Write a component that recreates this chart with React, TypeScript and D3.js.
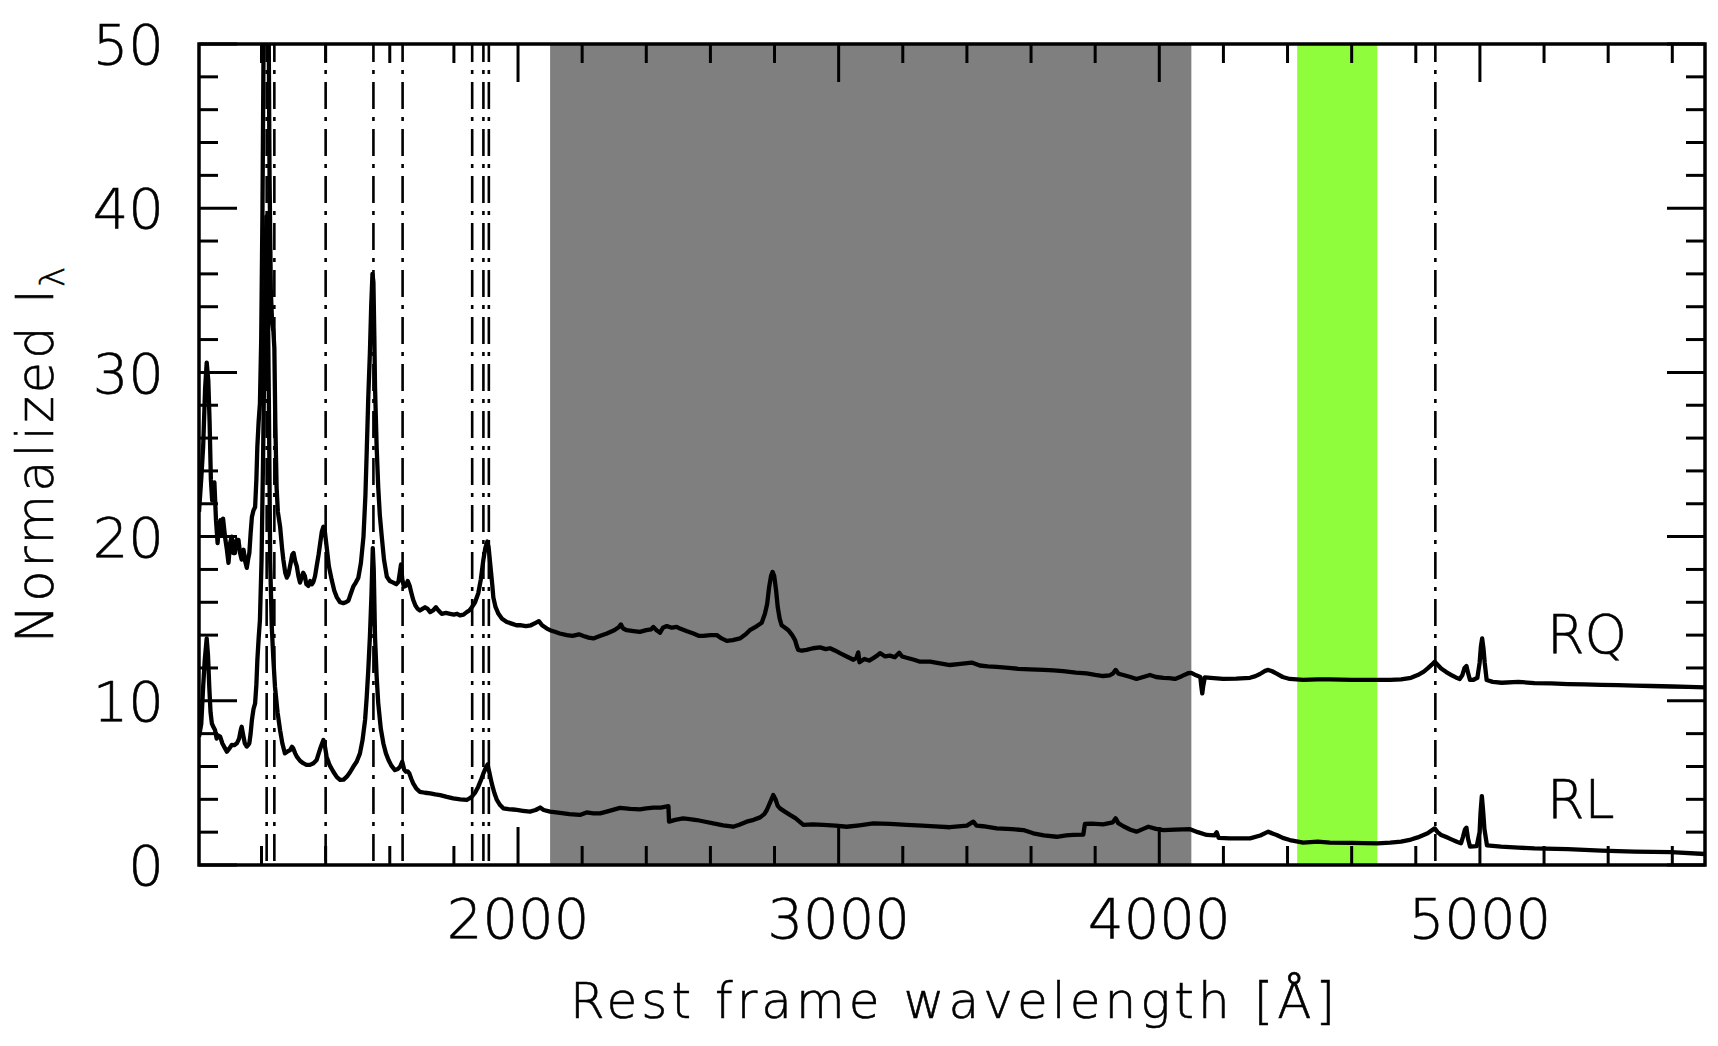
import React from 'react';
import * as d3 from 'd3';

// radio-quiet composite: rest wavelength (Å) and normalized flux
const rqWave = [
  1005, 1012, 1018, 1024, 1029, 1034, 1038, 1042, 1046, 1050, 1053, 1058, 1063, 1068, 1072, 1076, 1080, 1086, 1092, 1097,
  1102, 1107, 1112, 1117, 1122, 1128, 1133, 1138, 1144, 1149, 1154, 1158, 1162, 1166, 1170, 1175, 1180, 1184, 1187, 1191,
  1195, 1199, 1203, 1207, 1211, 1215, 1219, 1222, 1225, 1229, 1233, 1237, 1240, 1243, 1247, 1251, 1258, 1264, 1268, 1274,
  1279, 1284, 1290, 1296, 1300, 1305, 1310, 1315, 1320, 1325, 1330, 1335, 1340, 1346, 1352, 1357, 1362, 1367, 1372, 1378,
  1383, 1388, 1393, 1397, 1403, 1410, 1419, 1427, 1435, 1445, 1455, 1463, 1471, 1478, 1486, 1494, 1502, 1510, 1518, 1524,
  1528, 1533, 1538, 1542, 1546, 1549, 1552, 1554, 1559, 1564, 1569, 1575, 1582, 1591, 1600, 1611, 1620, 1627, 1632, 1635,
  1639, 1644, 1650, 1656, 1662, 1667, 1673, 1680, 1687, 1694, 1702, 1710, 1718, 1726, 1735, 1744, 1752, 1762, 1775, 1788,
  1800, 1810, 1819, 1830, 1840, 1848, 1856, 1866, 1876, 1884, 1892, 1898, 1904, 1908, 1912, 1915, 1920, 1923, 1930, 1939,
  1950, 1965, 1980, 1995, 2010, 2025, 2040, 2055, 2065, 2075, 2090, 2100, 2115, 2130, 2152, 2170, 2190, 2204, 2220, 2235,
  2255, 2277, 2300, 2315, 2321, 2328, 2339, 2360, 2380, 2400, 2415, 2422, 2432, 2443, 2452, 2464, 2480, 2495, 2505, 2525,
  2547, 2565, 2578, 2600, 2620, 2635, 2651, 2670, 2692, 2710, 2723, 2745, 2760, 2770, 2777, 2783, 2789, 2794, 2799, 2805,
  2810, 2816, 2822, 2833, 2843, 2855, 2864, 2870, 2874, 2885, 2900, 2920, 2942, 2960, 2973, 2990, 3004, 3025, 3046, 3055,
  3061, 3065, 3080, 3095, 3108, 3120, 3129, 3145, 3160, 3175, 3189, 3198, 3212, 3235, 3254, 3285, 3316, 3347, 3380, 3415,
  3440, 3465, 3493, 3530, 3560, 3597, 3640, 3670, 3700, 3740, 3773, 3800, 3825, 3845, 3855, 3864, 3873, 3888, 3910, 3929,
  3950, 3971, 3990, 4013, 4030, 4049, 4070, 4090, 4100, 4115, 4128, 4131, 4134, 4137, 4142, 4170, 4199, 4240, 4283, 4300,
  4314, 4330, 4340, 4352, 4366, 4385, 4407, 4449, 4494, 4532, 4600, 4681, 4720, 4754, 4785, 4806, 4825, 4837, 4850, 4859,
  4868, 4879, 4895, 4911, 4925, 4937, 4945, 4952, 4958, 4963, 4969, 4980, 4992, 4999, 5003, 5007, 5011, 5015, 5021, 5040,
  5068, 5120, 5170, 5222, 5274, 5326, 5378, 5430, 5482, 5534, 5600, 5650, 5702,
];
const rqFlux = [
  21.5, 23.5, 25.5, 29.0, 30.6, 29.5, 27.0, 23.5, 22.2, 22.8, 23.3, 21.0, 19.6, 20.8, 21.0, 20.2, 21.1, 20.0, 19.2, 18.4,
  19.6, 20.0, 19.0, 19.0, 19.8, 19.8, 19.0, 18.6, 19.2, 18.5, 18.1, 18.6, 19.0, 20.2, 21.2, 21.6, 21.8, 23.5, 25.5, 27.0,
  28.1, 32.0, 40.0, 52.0, 62.0, 68.0, 62.0, 52.0, 42.0, 35.0, 33.0, 32.5, 31.5, 27.0, 23.0, 21.5, 20.6, 19.3, 18.6, 17.8,
  17.5, 17.7, 18.3, 18.9, 19.0, 18.5, 18.2, 17.6, 17.2, 17.5, 17.8, 17.6, 17.1, 17.0, 17.3, 17.1, 17.25, 17.6, 18.2, 18.9,
  19.6, 20.3, 20.6, 20.4, 19.4, 18.2, 17.35, 16.7, 16.3, 16.0, 15.95, 16.0, 16.1, 16.5, 16.95, 17.2, 17.5, 18.4, 20.0, 22.5,
  25.1, 28.5, 31.2, 34.0, 36.0, 35.5, 32.0, 29.1, 25.5, 23.0, 21.3, 20.0, 18.6, 17.55, 17.3, 17.2, 17.1, 17.25, 17.9, 18.3,
  17.4, 16.95, 17.0, 17.3, 17.0, 16.6, 16.15, 15.8, 15.6, 15.5, 15.6, 15.7, 15.6, 15.4, 15.5, 15.7, 15.5, 15.3, 15.35, 15.3,
  15.25, 15.3, 15.2, 15.25, 15.4, 15.5, 15.7, 16.0, 16.55, 17.4, 18.6, 19.3, 19.7, 19.4, 18.6, 18.0, 17.0, 16.3, 15.7, 15.3,
  15.0, 14.8, 14.7, 14.6, 14.6, 14.55, 14.6, 14.75, 14.85, 14.6, 14.4, 14.3, 14.2, 14.1, 14.0, 13.95, 14.05, 13.95, 13.85, 13.8,
  13.95, 14.1, 14.3, 14.5, 14.65, 14.4, 14.3, 14.25, 14.2, 14.3, 14.35, 14.5, 14.3, 14.15, 14.45, 14.55, 14.45, 14.5, 14.4, 14.25,
  14.1, 13.95, 13.95, 14.0, 14.0, 13.8, 13.65, 13.7, 13.8, 14.05, 14.3, 14.55, 14.75, 15.3, 15.9, 16.9, 17.6, 17.85, 17.6, 16.7,
  15.7, 15.0, 14.6, 14.45, 14.3, 14.0, 13.7, 13.3, 13.1, 13.05, 13.1, 13.2, 13.25, 13.15, 13.2, 13.05, 12.9, 12.7, 12.5, 12.6,
  12.95, 12.35, 12.55, 12.45, 12.6, 12.75, 12.9, 12.7, 12.75, 12.65, 12.93, 12.7, 12.62, 12.5, 12.38, 12.38, 12.28, 12.18, 12.25, 12.33,
  12.15, 12.1, 12.07, 12.0, 11.95, 11.91, 11.88, 11.85, 11.81, 11.72, 11.67, 11.58, 11.51, 11.55, 11.65, 11.88, 11.65, 11.57, 11.45, 11.33,
  11.45, 11.57, 11.45, 11.4, 11.38, 11.33, 11.5, 11.68, 11.7, 11.55, 11.45, 10.9, 10.45, 10.9, 11.43, 11.38, 11.33, 11.35, 11.4, 11.5,
  11.63, 11.82, 11.88, 11.8, 11.65, 11.45, 11.33, 11.27, 11.3, 11.3, 11.28, 11.27, 11.28, 11.3, 11.4, 11.57, 11.78, 11.97, 12.2, 12.38,
  12.2, 11.97, 11.75, 11.57, 11.42, 11.33, 11.55, 12.0, 12.12, 11.7, 11.27, 11.28, 11.4, 12.3, 13.3, 13.8, 13.2, 12.3, 11.27, 11.15,
  11.1, 11.15, 11.08, 11.06, 11.02, 11.0, 10.97, 10.96, 10.93, 10.9, 10.87, 10.85, 10.82,
];

// radio-loud composite
const rlWave = [
  1005, 1012, 1018, 1023, 1029, 1033, 1037, 1041, 1045, 1050, 1055, 1060, 1064, 1071, 1078, 1085, 1092, 1100, 1107, 1115,
  1123, 1130, 1135, 1138, 1142, 1148, 1154, 1158, 1162, 1166, 1170, 1175, 1180, 1184, 1187, 1191, 1195, 1200, 1205, 1210,
  1215, 1219, 1223, 1227, 1232, 1237, 1242, 1250, 1258, 1265, 1273, 1280, 1289, 1295, 1299, 1305, 1310, 1320, 1330, 1340,
  1351, 1362, 1372, 1380, 1385, 1393, 1398, 1403, 1412, 1424, 1435, 1445, 1456, 1466, 1476, 1486, 1497, 1507, 1515, 1523,
  1528, 1533, 1538, 1543, 1547, 1550, 1554, 1559, 1564, 1572, 1580, 1588, 1596, 1605, 1616, 1625, 1632, 1639, 1645, 1650,
  1656, 1661, 1667, 1673, 1683, 1694, 1710, 1726, 1742, 1757, 1778, 1798, 1820, 1840, 1848, 1856, 1866, 1876, 1884, 1892,
  1899, 1905, 1910, 1918, 1926, 1934, 1944, 1954, 1970, 1985, 1996, 2015, 2037, 2055, 2069, 2080, 2100, 2131, 2160, 2193,
  2214, 2235, 2256, 2285, 2318, 2350, 2380, 2400, 2422, 2445, 2469, 2471, 2490, 2515, 2535, 2557, 2580, 2609, 2640, 2671,
  2690, 2713, 2735, 2755, 2768, 2776, 2787, 2796, 2803, 2810, 2817, 2832, 2848, 2865, 2890, 2920, 2952, 2990, 3025, 3065,
  3108, 3160, 3212, 3260, 3300, 3347, 3400, 3420, 3430, 3450, 3493, 3540, 3576, 3607, 3640, 3680, 3710, 3732, 3763, 3768,
  3790, 3825, 3855, 3864, 3872, 3888, 3910, 3929, 3950, 3966, 3990, 4013, 4050, 4096, 4120, 4148, 4172, 4179, 4185, 4220,
  4283, 4315, 4340, 4355, 4366, 4385, 4407, 4449, 4494, 4532, 4600, 4681, 4720, 4754, 4785, 4806, 4837, 4859, 4868, 4879,
  4895, 4911, 4930, 4941, 4947, 4953, 4958, 4963, 4969, 4990, 4999, 5002, 5006, 5010, 5014, 5022, 5066, 5120, 5170, 5274,
  5378, 5482, 5596, 5702,
];
const rlFlux = [
  7.8, 8.6, 10.86, 12.5, 13.8, 12.8, 10.86, 9.3, 8.63, 8.4, 8.22, 7.7, 7.9, 7.82, 7.4, 7.15, 6.9, 7.1, 7.31, 7.3,
  7.41, 7.7, 8.2, 8.42, 8.0, 7.4, 7.21, 7.3, 7.41, 8.0, 8.83, 9.5, 9.84, 11.0, 12.48, 13.8, 14.9, 18.5, 25.0, 33.0,
  39.5, 36.0, 28.0, 18.5, 14.5, 12.5, 10.86, 9.3, 8.2, 7.4, 6.8, 6.9, 7.0, 7.2, 7.1, 6.8, 6.6, 6.35, 6.2, 6.1,
  6.1, 6.2, 6.4, 6.9, 7.2, 7.61, 7.2, 6.6, 6.1, 5.68, 5.35, 5.18, 5.2, 5.38, 5.65, 5.98, 6.3, 6.8, 7.6, 8.83,
  10.2, 11.88, 13.9, 16.5, 19.3, 18.0, 13.9, 11.5, 9.86, 8.3, 7.4, 6.8, 6.4, 6.05, 5.78, 5.85, 5.98, 6.29, 5.8, 5.68,
  5.7, 5.58, 5.25, 4.97, 4.65, 4.46, 4.4, 4.36, 4.3, 4.26, 4.15, 4.06, 4.0, 3.96, 4.05, 4.16, 4.4, 4.77, 5.15, 5.58,
  5.9, 6.12, 5.7, 4.97, 4.4, 3.96, 3.65, 3.45, 3.4, 3.38, 3.35, 3.3, 3.25, 3.35, 3.5, 3.35, 3.25, 3.18, 3.1, 3.05,
  3.2, 3.15, 3.14, 3.3, 3.48, 3.42, 3.39, 3.45, 3.5, 3.5, 3.59, 2.64, 2.75, 2.84, 2.8, 2.74, 2.65, 2.53, 2.42, 2.33,
  2.45, 2.64, 2.75, 2.9, 3.1, 3.35, 3.85, 4.26, 4.0, 3.6, 3.45, 3.25, 3.05, 2.85, 2.44, 2.48, 2.44, 2.4, 2.33, 2.42,
  2.53, 2.5, 2.44, 2.4, 2.35, 2.3, 2.4, 2.64, 2.4, 2.36, 2.23, 2.18, 2.13, 1.93, 1.8, 1.72, 1.8, 1.83, 1.85, 2.5,
  2.52, 2.48, 2.6, 2.84, 2.55, 2.36, 2.15, 2.03, 2.2, 2.33, 2.2, 2.13, 2.15, 2.18, 2.0, 1.83, 1.8, 2.0, 1.65, 1.62,
  1.62, 1.8, 2.03, 1.9, 1.83, 1.65, 1.52, 1.36, 1.42, 1.36, 1.35, 1.32, 1.36, 1.42, 1.55, 1.68, 1.93, 2.23, 2.0, 1.83,
  1.7, 1.56, 1.4, 1.32, 1.7, 2.15, 2.27, 1.6, 1.12, 1.15, 2.0, 3.2, 4.2, 3.3, 2.2, 1.2, 1.12, 1.06, 1.01, 0.97,
  0.87, 0.81, 0.78, 0.67,
];

// emission lines marked with dash-dot verticals
const lineWaves = [1216, 1240, 1400, 1549, 1640, 1857, 1892, 1909, 4861];
// shaded wavelength windows
const grayBand = [2100, 4100];
const greenBand = [4430, 4680];

const xMajorTicks = [2000, 3000, 4000, 5000];
const xMinorTicks = [1200, 1400, 1600, 1800, 2200, 2400, 2600, 2800, 3200, 3400, 3600, 3800,
  4200, 4400, 4600, 4800, 5200, 5400, 5600];
const yMajorTicks = [0, 10, 20, 30, 40, 50];
const yMinorTicks = [2, 4, 6, 8, 12, 14, 16, 18, 22, 24, 26, 28, 32, 34, 36, 38, 42, 44, 46, 48];

const W = 1718;
const H = 1046;
const left = 199, right = 1705, top = 44, bottom = 865;
const font = '"DejaVu Sans", sans-serif';

const App: React.FC = () => {
  const x = d3.scaleLinear().domain([1005, 5702]).range([left, right]);
  const y = d3.scaleLinear().domain([0, 50]).range([bottom, top]);

  const line = d3.line<[number, number]>()
    .x(d => x(d[0]))
    .y(d => y(d[1]));

  const rq = line(rqWave.map((w, i) => [w, rqFlux[i]] as [number, number])) || '';
  const rl = line(rlWave.map((w, i) => [w, rlFlux[i]] as [number, number])) || '';

  const major = 38, minor = 19;

  return (
    <svg width={W} height={H} style={{ position: 'absolute', left: 0, top: 0, background: '#fff' }}>
      <defs>
        <clipPath id="plot-clip">
          <rect x={left} y={top} width={right - left} height={bottom - top} />
        </clipPath>
      </defs>

      <rect x={x(grayBand[0])} y={top} width={x(grayBand[1]) - x(grayBand[0])} height={bottom - top} fill="#7f7f7f" />
      <rect x={x(greenBand[0])} y={top} width={x(greenBand[1]) - x(greenBand[0])} height={bottom - top} fill="#8ffd3c" />

      {lineWaves.map(w => (
        <line key={w} x1={x(w)} x2={x(w)} y1={top} y2={bottom}
          stroke="#000" strokeWidth={2.6} strokeDasharray="27 8 4 8" strokeDashoffset={9} />
      ))}

      <g clipPath="url(#plot-clip)" fill="none" stroke="#000" strokeWidth={4.3} strokeLinejoin="round">
        <path d={rq} />
        <path d={rl} />
      </g>

      <g stroke="#000" strokeWidth={3}>
        {xMajorTicks.map(t => (
          <g key={'xM' + t}>
            <line x1={x(t)} x2={x(t)} y1={bottom} y2={bottom - major} />
            <line x1={x(t)} x2={x(t)} y1={top} y2={top + major} />
          </g>
        ))}
        {xMinorTicks.map(t => (
          <g key={'xm' + t}>
            <line x1={x(t)} x2={x(t)} y1={bottom} y2={bottom - minor} />
            <line x1={x(t)} x2={x(t)} y1={top} y2={top + minor} />
          </g>
        ))}
        {yMajorTicks.map(t => (
          <g key={'yM' + t}>
            <line x1={left} x2={left + major} y1={y(t)} y2={y(t)} />
            <line x1={right} x2={right - major} y1={y(t)} y2={y(t)} />
          </g>
        ))}
        {yMinorTicks.map(t => (
          <g key={'ym' + t}>
            <line x1={left} x2={left + minor} y1={y(t)} y2={y(t)} />
            <line x1={right} x2={right - minor} y1={y(t)} y2={y(t)} />
          </g>
        ))}
      </g>

      <rect x={left} y={top} width={right - left} height={bottom - top} fill="none" stroke="#000" strokeWidth={3.5} />

      <g fontFamily={font} fontWeight={300} fill="#000" stroke="#000" strokeWidth={0.6}>
        {yMajorTicks.map(t => (
          <text key={'yl' + t} x={164} y={y(t)} dy="0.36em" fontSize={56} textAnchor="end">{t}</text>
        ))}
        {xMajorTicks.map(t => (
          <text key={'xl' + t} x={x(t)} y={938} fontSize={56} textAnchor="middle">{t}</text>
        ))}
        <text x={570} y={1018} fontSize={50} textLength={765} lengthAdjust="spacing">Rest frame wavelength [Å]</text>
        <text transform="translate(53,643) rotate(-90)" fontSize={51} textLength={354} lengthAdjust="spacing">Normalized I</text>
        <text transform="translate(64,287) rotate(-90)" fontSize={34}>λ</text>
        <text x={1547} y={653} fontSize={54}>RQ</text>
        <text x={1547} y={818} fontSize={54}>RL</text>
      </g>
    </svg>
  );
};

export default App;
